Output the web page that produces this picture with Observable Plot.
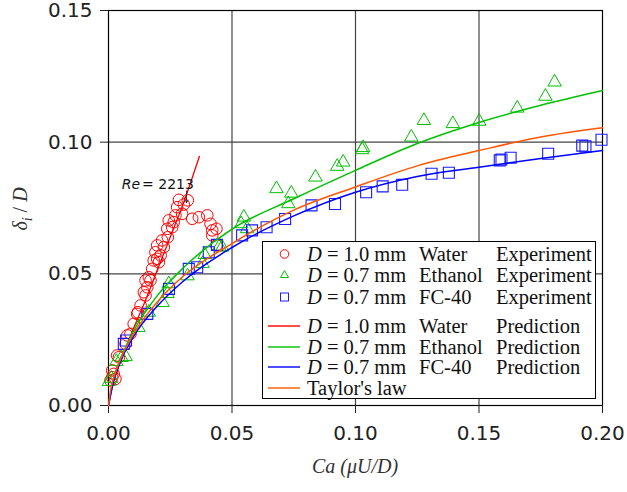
<!DOCTYPE html>
<html><head><meta charset="utf-8">
<script src="https://cdn.jsdelivr.net/npm/d3@7"></script>
<script src="https://cdn.jsdelivr.net/npm/@observablehq/plot@0.6"></script>
<style>
body{margin:0;background:#fff}
#wrap{position:relative;width:627px;height:492px;background:#fff}
.lab{position:absolute;font-family:"Liberation Serif",serif;font-style:italic;font-size:20px;white-space:nowrap;color:#333}
#legend{position:absolute;left:262px;top:241px;width:332px;height:156px;border:1.5px solid #000;background:#fff}
.lt{position:absolute;font-family:"Liberation Serif",serif;font-size:20.5px;line-height:22px;white-space:nowrap;color:#111}
</style>
</head><body><div id="wrap"></div>
<script>
// ---- data ----
const waterCa = [0.0008,0.0015,0.0028,0.0015,0.0021,0.0035,0.0042,0.0069,0.0076,0.0089,0.0102,0.0119,0.0116,0.0130,0.0143,0.0150,0.0157,0.0150,0.0170,0.0163,0.0177,0.0183,0.0204,0.0197,0.0211,0.0190,0.0197,0.0224,0.0217,0.0240,0.0238,0.0258,0.0244,0.0264,0.0271,0.0298,0.0278,0.0285,0.0305,0.0321,0.0339,0.0366,0.0400,0.0413,0.0420,0.0437,0.0420,0.0437];
const waterDelta = [0.0095,0.0107,0.0101,0.0133,0.0120,0.0190,0.0183,0.0234,0.0266,0.0272,0.0310,0.0354,0.0348,0.0380,0.0430,0.0418,0.0449,0.0475,0.0475,0.0487,0.0519,0.0551,0.0544,0.0557,0.0570,0.0582,0.0608,0.0601,0.0627,0.0639,0.0671,0.0677,0.0703,0.0696,0.0722,0.0728,0.0753,0.0781,0.0763,0.0779,0.0709,0.0715,0.0722,0.0690,0.0665,0.0671,0.0646,0.0608];

const ethanolCa = [0.0002,0.0012,0.0032,0.0053,0.0069,0.0121,0.0163,0.0219,0.0239,0.0244,0.0320,0.0381,0.0389,0.0449,0.0460,0.0537,0.0548,0.0561,0.0680,0.0740,0.0728,0.0838,0.0926,0.0950,0.1027,0.1031,0.1226,0.1277,0.1394,0.1501,0.1655,0.1769,0.1806];
const ethanolDelta = [0.0091,0.0103,0.0167,0.0182,0.0186,0.0296,0.0354,0.0391,0.0425,0.0462,0.0492,0.0539,0.0573,0.0604,0.0601,0.0690,0.0715,0.0671,0.0823,0.0806,0.0766,0.0867,0.0908,0.0924,0.0971,0.0979,0.1019,0.1082,0.1070,0.1079,0.1129,0.1174,0.1228];

const fc40Ca = [0.0062,0.0071,0.0157,0.0245,0.0325,0.0359,0.0406,0.0439,0.0541,0.0581,0.0640,0.0715,0.0822,0.0917,0.1043,0.1110,0.1189,0.1308,0.1378,0.1584,0.1591,0.1628,0.1780,0.1918,0.1931,0.1996];
const fc40Delta = [0.0234,0.0247,0.0348,0.0443,0.0519,0.0525,0.0582,0.0610,0.0646,0.0665,0.0677,0.0708,0.0760,0.0765,0.0810,0.0832,0.0838,0.0880,0.0884,0.0931,0.0934,0.0941,0.0956,0.0987,0.0984,0.1009];

const predWaterCa = [0,0.002,0.005,0.010,0.015,0.020,0.025,0.030,0.0368];
const predWaterDelta = [0,0.009,0.017,0.029,0.040,0.052,0.064,0.076,0.0946];

const predEthanolCa = [0,0.002,0.005,0.010,0.020,0.030,0.050,0.075,0.100,0.125,0.150,0.175,0.200];
const predEthanolDelta = [0,0.010,0.018,0.028,0.042,0.052,0.067,0.0785,0.0893,0.0995,0.1075,0.1140,0.1196];

const predFc40Ca = [0,0.002,0.005,0.010,0.020,0.030,0.050,0.075,0.100,0.125,0.150,0.175,0.200];
const predFc40Delta = [0,0.009,0.017,0.026,0.038,0.047,0.060,0.072,0.081,0.087,0.0905,0.0938,0.0968];

const taylorCa = [0,0.001,0.0025,0.005,0.010,0.020,0.030,0.050,0.075,0.100,0.125,0.150,0.175,0.200];
const taylorDelta = [0,0.0065,0.0116,0.0178,0.0269,0.0396,0.0489,0.0615,0.0742,0.0830,0.0910,0.0968,0.1020,0.1055];

const xTicks = [0,0.05,0.10,0.15,0.20];
const yTicks = [0,0.05,0.10,0.15];
const xGrid = [0.05,0.10,0.15];
const yGrid = [0.05,0.10];
const reLabelCa = [0.0128], reLabelDelta = [0.0839];
const arrowCa = [0.0316], arrowFrom = [0.0815], arrowTo = [0.0770];

const pts = (xs, ys) => xs.map((x, i) => ({x, y: ys[i]}));

const RED = "#ff0000", GREEN = "#00c000", BLUE = "#1a1aff", ORANGE = "#ff5500";

const chart = Plot.plot({
  width: 627, height: 492,
  marginLeft: 108, marginRight: 25, marginTop: 10, marginBottom: 87,
  style: {fontFamily: "DejaVu Sans", fontSize: "20px", background: "#fff", color: "#222", overflow: "visible"},
  x: {domain: [0, 0.2]},
  y: {domain: [0, 0.15]},
  marks: [
    Plot.ruleX(xGrid, {stroke: "#444", strokeWidth: 1.2}),
    Plot.ruleY(yGrid, {stroke: "#444", strokeWidth: 1.2}),
    Plot.frame({stroke: "#000", strokeWidth: 1.2}),
    Plot.axisX({ticks: xTicks, tickFormat: d3.format(".2f"), tickSize: 8, tickPadding: 12, label: null, fontSize: 20}),
    Plot.axisY({ticks: yTicks, tickFormat: d3.format(".2f"), tickSize: 8, tickPadding: 8, label: null, fontSize: 20}),
    Plot.dot(pts(waterCa, waterDelta), {x: "x", y: "y", r: 5.8, stroke: RED, fill: "none", strokeWidth: 1}),
    Plot.dot(pts(ethanolCa, ethanolDelta), {x: "x", y: "y", symbol: "triangle", r: 5, stroke: GREEN, fill: "none", strokeWidth: 1}),
    Plot.dot(pts(fc40Ca, fc40Delta), {x: "x", y: "y", symbol: "square", r: 6.2, stroke: BLUE, fill: "none", strokeWidth: 1.1}),
    Plot.line(pts(predWaterCa, predWaterDelta), {x: "x", y: "y", stroke: RED, strokeWidth: 1.3, curve: "monotone-x"}),
    Plot.line(pts(predEthanolCa, predEthanolDelta), {x: "x", y: "y", stroke: GREEN, strokeWidth: 1.5, curve: "monotone-x"}),
    Plot.line(pts(predFc40Ca, predFc40Delta), {x: "x", y: "y", stroke: "#0000ff", strokeWidth: 1.5, curve: "monotone-x"}),
    Plot.line(pts(taylorCa, taylorDelta), {x: "x", y: "y", stroke: ORANGE, strokeWidth: 1.5, curve: "monotone-x"}),
    Plot.text(pts(reLabelCa, reLabelDelta), {x: "x", y: "y", text: () => "Re", textAnchor: "end", fontStyle: "italic", fontSize: 14, fontFamily: "DejaVu Sans", fill: "#111"}),
    Plot.text(pts(reLabelCa, reLabelDelta), {x: "x", y: "y", text: () => "= 2213", textAnchor: "start", dx: 2, fontSize: 14, fontFamily: "DejaVu Sans", fill: "#111"}),
    Plot.arrow(arrowCa.map((x, i) => ({x, y1: arrowFrom[i], y2: arrowTo[i]})), {x1: "x", x2: "x", y1: "y1", y2: "y2", stroke: "#222", strokeWidth: 0.9, headLength: 5})
  ]
});

const wrap = document.getElementById("wrap");
wrap.appendChild(chart);

// axis titles
const yl = document.createElement("div");
yl.className = "lab";
yl.style.left = "22px"; yl.style.top = "209px";
yl.style.transform = "translate(-50%,-50%) rotate(-90deg)";
yl.innerHTML = "δ<sub style='font-size:14px'>i</sub> <span style='font-style:normal'>/</span> D";
wrap.appendChild(yl);

const xl = document.createElement("div");
xl.className = "lab";
xl.style.left = "355px"; xl.style.top = "466px";
xl.style.transform = "translate(-50%,-50%)";
xl.textContent = "Ca (μU/D)";
wrap.appendChild(xl);

// legend
const legendRows = [
  {sym: "circle", color: RED, d: "1.0", fluid: "Water", kind: "Experiment", y: 253},
  {sym: "triangle", color: GREEN, d: "0.7", fluid: "Ethanol", kind: "Experiment", y: 274},
  {sym: "square", color: BLUE, d: "0.7", fluid: "FC-40", kind: "Experiment", y: 296},
  {sym: "line", color: RED, d: "1.0", fluid: "Water", kind: "Prediction", y: 325},
  {sym: "line", color: GREEN, d: "0.7", fluid: "Ethanol", kind: "Prediction", y: 346},
  {sym: "line", color: "#0000ff", d: "0.7", fluid: "FC-40", kind: "Prediction", y: 366},
  {sym: "line", color: ORANGE, d: null, fluid: null, kind: null, y: 387, label: "Taylor's law"}
];
const leg = document.createElement("div");
leg.id = "legend";
wrap.appendChild(leg);
const L = 262, T = 241;
for (const r of legendRows) {
  const s = document.createElementNS("http://www.w3.org/2000/svg", "svg");
  s.setAttribute("width", 40); s.setAttribute("height", 20);
  s.style.position = "absolute";
  s.style.left = (263 - L) + "px"; s.style.top = (r.y - 10 - T) + "px";
  let inner = "";
  if (r.sym === "circle") inner = `<circle cx="20.5" cy="10" r="4.3" fill="none" stroke="${r.color}" stroke-width="1"/>`;
  else if (r.sym === "triangle") inner = `<path d="M20.5,5.5 L24.5,12.5 L16.5,12.5 Z" fill="none" stroke="${r.color}" stroke-width="1"/>`;
  else if (r.sym === "square") inner = `<rect x="16.5" y="6" width="8" height="8" fill="none" stroke="${r.color}" stroke-width="1"/>`;
  else inner = `<line x1="4" x2="36" y1="10" y2="10" stroke="${r.color}" stroke-width="1.4"/>`;
  s.innerHTML = inner;
  leg.appendChild(s);
  const add = (x, html) => {
    const t = document.createElement("div");
    t.className = "lt";
    t.style.left = (x - L) + "px"; t.style.top = (r.y - 11 - T) + "px";
    t.innerHTML = html;
    leg.appendChild(t);
  };
  if (r.label) add(306, r.label);
  else {
    add(306, `<i>D</i> = ${r.d} mm`);
    add(418, r.fluid);
    add(495, r.kind);
  }
}
</script>
</body></html>
